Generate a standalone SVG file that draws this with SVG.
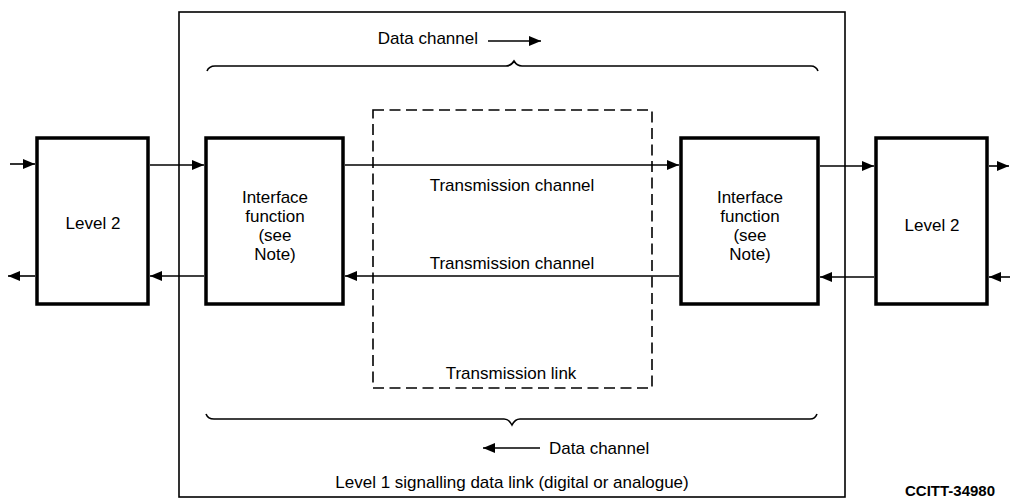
<svg xmlns="http://www.w3.org/2000/svg" width="1010" height="500" viewBox="0 0 1010 500">
<style>
text{font-family:"Liberation Sans",Arial,sans-serif;font-size:17px;fill:#000}
.m{text-anchor:middle}
.blk{fill:#fff;stroke:#000;stroke-width:3.5}
.ln{fill:none;stroke:#000;stroke-width:1.6}
.cn{fill:none;stroke:#000;stroke-width:1.6}
</style>
<defs>
<marker id="ah" viewBox="0 0 12 10" refX="12" refY="5" markerWidth="12" markerHeight="10" markerUnits="userSpaceOnUse" orient="auto">
<path d="M0,0 L12,5 L0,10 Z" fill="#000"/>
</marker>
</defs>
<rect width="1010" height="500" fill="#fff"/>
<g id="outer">
<rect x="179" y="12" width="666" height="485" class="ln"/>
<text class="m" x="512" y="488">Level 1 signalling data link (digital or analogue)</text>
</g>
<g id="link">
<rect x="373" y="110" width="279" height="278" class="ln" stroke-dasharray="11,5.5"/>
<text class="m" x="511" y="379">Transmission link</text>
</g>
<g id="braces">
<path class="ln" d="M207,71 Q209,66 215,66 L506,66 Q511,66 514,61 Q517,66 522,66 L811,66 Q816,66 818,71"/>
<path class="ln" d="M206,414 Q208,419 214,419 L504,419 Q509,419 512,425 Q515,419 520,419 L810,419 Q815,419 817,414"/>
<text x="478" y="44" text-anchor="end">Data channel</text>
<text x="549" y="454">Data channel</text>
</g>
<g id="level2-left">
<rect x="37" y="138" width="111" height="166" class="blk"/>
<text class="m" x="93" y="229">Level 2</text>
</g>
<g id="interface-left">
<rect x="206" y="138" width="137" height="166" class="blk"/>
<text class="m" x="275" y="203">Interface</text>
<text class="m" x="275" y="222">function</text>
<text class="m" x="275" y="241">(see</text>
<text class="m" x="275" y="260">Note)</text>
</g>
<g id="interface-right">
<rect x="681" y="138" width="137" height="166" class="blk"/>
<text class="m" x="750" y="203">Interface</text>
<text class="m" x="750" y="222">function</text>
<text class="m" x="750" y="241">(see</text>
<text class="m" x="750" y="260">Note)</text>
</g>
<g id="level2-right">
<rect x="876" y="138" width="111" height="166" class="blk"/>
<text class="m" x="932" y="231">Level 2</text>
</g>
<g id="connectors">
<line class="cn" x1="10" y1="164" x2="35" y2="164" marker-end="url(#ah)"/>
<line class="cn" x1="35" y1="276" x2="8" y2="276" marker-end="url(#ah)"/>
<line class="cn" x1="150" y1="165" x2="204" y2="165" marker-end="url(#ah)"/>
<line class="cn" x1="204" y1="276" x2="150" y2="276" marker-end="url(#ah)"/>
<line class="cn" x1="345" y1="165" x2="679" y2="165" marker-end="url(#ah)"/>
<line class="cn" x1="679" y1="276" x2="345" y2="276" marker-end="url(#ah)"/>
<line class="cn" x1="820" y1="166" x2="874" y2="166" marker-end="url(#ah)"/>
<line class="cn" x1="874" y1="277" x2="820" y2="277" marker-end="url(#ah)"/>
<line class="cn" x1="989" y1="166" x2="1009" y2="166" marker-end="url(#ah)"/>
<line class="cn" x1="1010" y1="277" x2="989" y2="277" marker-end="url(#ah)"/>
<line class="cn" x1="488" y1="41" x2="541" y2="41" marker-end="url(#ah)"/>
<line class="cn" x1="540" y1="448" x2="483" y2="448" marker-end="url(#ah)"/>
</g>
<g id="labels">
<text class="m" x="512" y="191">Transmission channel</text>
<text class="m" x="512" y="269">Transmission channel</text>
<text x="905" y="496" style="font-weight:bold;font-size:15px">CCITT-34980</text>
</g>
</svg>
